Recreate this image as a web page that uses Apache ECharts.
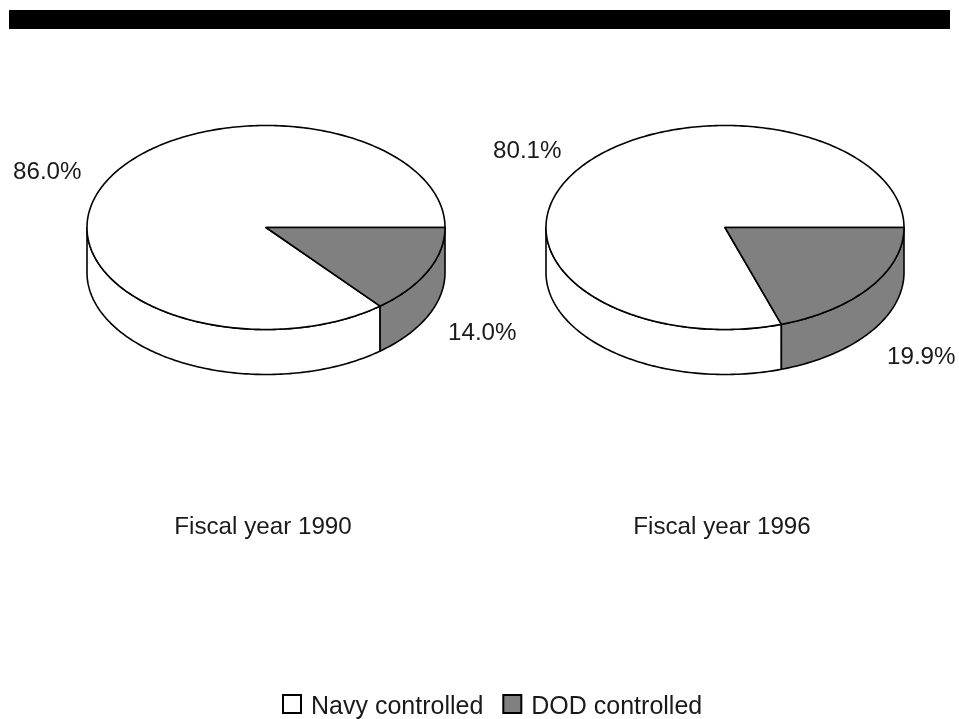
<!DOCTYPE html>
<html>
<head>
<meta charset="utf-8">
<title>Navy and DOD controlled</title>
<script src="https://cdn.jsdelivr.net/npm/echarts@6/dist/echarts.min.js"></script>
<style>
    html, body { margin: 0; padding: 0; background: #fff; }
    #myChart { width: 959px; height: 719px; }
</style>
</head>
<body>
<div id="myChart"></div>
<script>
// chart values
const years = ['Fiscal year 1990', 'Fiscal year 1996'];
const navyShare = [86.0, 80.1];
const dodShare = [14.0, 19.9];

// layout of the two discs, in pixels
const pieCenters = [[266, 227.5], [725, 227.5]];
const rx = 179;
const ry = 102;
const depth = 45;
const navyLabelPos = [[13, 172], [493, 151]];
const dodLabelPos = [[448, 333], [887, 357]];
const yearLabelY = 527;
const fontFamily = '"Liberation Sans", Arial, sans-serif';
const fontSize = 24.2;
const legendFontSize = 25;
const lineW = 1.6;

// point on the disc rim, angle in degrees clockwise from 3 o'clock
function rim(c, deg, drop) {
    const a = deg * Math.PI / 180;
    return [c[0] + rx * Math.cos(a), c[1] + ry * Math.sin(a) + drop];
}

function arc(c, from, to, drop) {
    const pts = [];
    const n = Math.max(2, Math.ceil(Math.abs(to - from)));
    for (let i = 0; i <= n; i++) {
        pts.push(rim(c, from + (to - from) * i / n, drop));
    }
    return pts;
}

function slice(fill, from, to, c, labelText, labelPos) {
    const style = { fill: fill, stroke: '#000', lineWidth: lineW, lineJoin: 'round' };
    const children = [];
    // wall only shows on the front half of the disc
    const wallFrom = Math.min(from, 180);
    const wallTo = Math.min(to, 180);
    if (wallTo > wallFrom) {
        children.push({
            type: 'polygon',
            shape: { points: arc(c, wallFrom, wallTo, 0).concat(arc(c, wallTo, wallFrom, depth)) },
            style: style
        });
    }
    children.push({
        type: 'polygon',
        shape: { points: [c].concat(arc(c, from, to, 0)) },
        style: style
    });
    children.push({
        type: 'text',
        style: {
            text: labelText,
            x: labelPos[0],
            y: labelPos[1],
            fill: '#1a1a1a',
            font: fontSize + 'px ' + fontFamily,
            textVerticalAlign: 'middle'
        }
    });
    return { type: 'group', children: children };
}

let myChart = echarts.init(document.getElementById('myChart'), null, { renderer: 'canvas' });
myChart.setOption({
    animation: false,
    backgroundColor: '#fff',
    legend: {
        data: ['Navy controlled', 'DOD controlled'],
        top: 694,
        left: 282,
        padding: 0,
        icon: 'rect',
        itemWidth: 18,
        itemHeight: 18,
        itemGap: 19,
        formatter: '{a|{name}}',
        textStyle: {
            rich: {
                a: { color: '#1a1a1a', fontSize: legendFontSize, fontFamily: fontFamily, padding: [6, 0, 0, 5] }
            }
        },
        selectedMode: false
    },
    graphic: [
        { type: 'rect', shape: { x: 9, y: 10, width: 941, height: 19 }, style: { fill: '#000' } }
    ].concat(years.map(function (name, i) {
        return {
            type: 'text',
            style: {
                text: name,
                x: pieCenters[i][0] - 3,
                y: yearLabelY,
                fill: '#1a1a1a',
                font: fontSize + 'px ' + fontFamily,
                textAlign: 'center',
                textVerticalAlign: 'middle'
            }
        };
    })),
    series: [
        {
            name: 'Navy controlled',
            type: 'custom',
            coordinateSystem: 'none',
            data: navyShare,
            itemStyle: { color: '#fff', borderColor: '#000', borderWidth: lineW },
            renderItem: function (params, api) {
                const i = params.dataIndex;
                const v = api.value(0);
                return slice('#fff', 360 - v * 3.6, 360, pieCenters[i], v.toFixed(1) + '%', navyLabelPos[i]);
            }
        },
        {
            name: 'DOD controlled',
            type: 'custom',
            coordinateSystem: 'none',
            data: dodShare,
            itemStyle: { color: '#808080', borderColor: '#000', borderWidth: lineW },
            renderItem: function (params, api) {
                const i = params.dataIndex;
                const v = api.value(0);
                return slice('#808080', 0, v * 3.6, pieCenters[i], v.toFixed(1) + '%', dodLabelPos[i]);
            }
        }
    ]
});
</script>
</body>
</html>
